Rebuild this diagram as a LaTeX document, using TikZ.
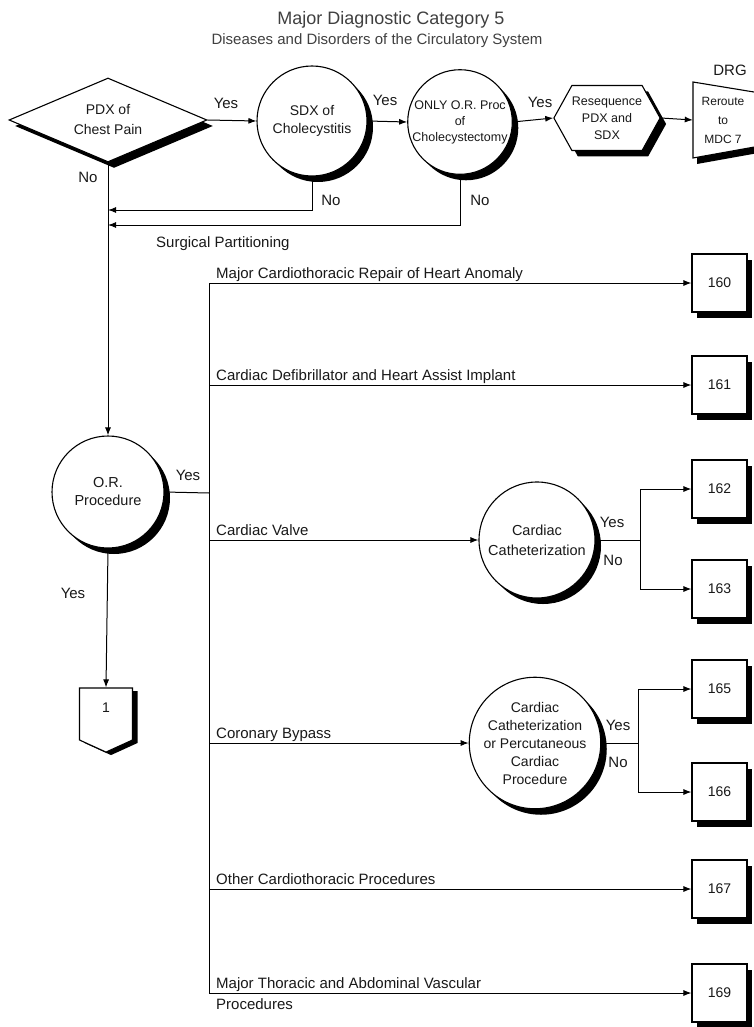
\documentclass[tikz,border=0pt]{standalone}
\usepackage{fontspec}
\setmainfont{Liberation Sans}
\usetikzlibrary{arrows.meta,shapes.geometric,shapes.symbols,shadows,backgrounds}
\begin{document}
\begin{tikzpicture}[x=1pt,y=-1pt,
  every node/.style={font=\fontsize{14}{18}\selectfont, inner sep=0pt, text=black!90},
  shad/.style={drop shadow={shadow xshift=6pt,shadow yshift=-6pt,fill=black,opacity=1}},
  dec/.style={circle,draw,line width=1.1pt,fill=white,align=center,shad},
  drgbox/.style={draw,line width=1.1pt,fill=white,minimum width=55pt,minimum height=58pt,
     drop shadow={shadow xshift=5pt,shadow yshift=-6pt,fill=black,opacity=1}},
  arr/.style={-{Latex[length=8pt,width=6pt]},line width=1pt},
  ln/.style={line width=1pt},
  lbl/.style={font=\fontsize{15}{18}\selectfont,anchor=base west},
  yn/.style={font=\fontsize{15}{18}\selectfont},
]
\useasboundingbox (0,0) rectangle (753,1027);

% titles
\node (title) at (391,20) [font=\fontsize{18}{20}\selectfont, text=black!75] {Major Diagnostic Category 5};
\node (sub) at (377,41) [font=\fontsize{15}{17}\selectfont, text=black!75] {Diseases and Disorders of the Circulatory System};
\node (drgt) at (730,70) [yn] {DRG};

% top row
\node[diamond, draw, line width=1.1pt, fill=white, shad, minimum width=198pt, minimum height=84pt,
      aspect=2.36, align=center, font=\fontsize{14}{20}\selectfont] (pdx) at (108,120) {PDX of\\Chest Pain};
\node[dec, minimum size=110pt] (sdx) at (312,121) {SDX of\\Cholecystitis};
\node[dec, minimum size=104pt, font=\fontsize{12.5}{16}\selectfont] (only) at (460,122) {ONLY O.R. Proc\\of\\Cholecystectomy};
\node[signal, signal to=west and east, signal pointer angle=122, draw, line width=1.1pt, fill=white, shad,
      minimum width=100pt, minimum height=65pt, align=center, font=\fontsize{12.5}{17}\selectfont] (hex) at (607,118) {Resequence\\PDX and\\SDX};
\node[minimum width=60pt, minimum height=70pt, align=center, font=\fontsize{12}{19}\selectfont] (drg) at (723,120) {Reroute\\to\\MDC 7};
\begin{scope}[on background layer]
  \fill[white] (0,0) rectangle (753,1027);
  \fill[black] (697,88) -- (764,99) -- (764,152) -- (697,164) -- cycle;
  \draw[line width=1.1pt, fill=white] (693,82) -- (760,93) -- (760,146) -- (693,158) -- cycle;
\end{scope}

\draw[arr] (pdx.east) -- (sdx.west);
\draw[arr] (sdx.east) -- (only.west);
\draw[arr] (only.east) -- (hex.west);
\draw[arr] (hex.east) -- (drg.west);
\node[yn] (y1) at (226,103) {Yes};
\node[yn] (y2) at (385,100) {Yes};
\node[yn] (y3) at (540,102) {Yes};

% OR procedure
\node[dec, minimum size=112pt, font=\fontsize{14.5}{18}\selectfont] (orp) at (108,492) {O.R.\\Procedure};
\draw[arr] (pdx.south) -- (orp.north);
\node[yn] (n0) at (88,177) {No};

\coordinate (j1) at (108,210);
\coordinate (j2) at (108,225);
\draw[arr] (sdx.south) |- (j1);
\draw[arr] (only.south) |- (j2);
\node[yn] (n1) at (331,200) {No};
\node[yn] (n2) at (480,200) {No};
\node[lbl] (surg) at (156,247) {Surgical Partitioning};

% off-page connector
\node[signal, signal to=south, signal from=nowhere, signal pointer angle=131, draw, line width=1.1pt, fill=white,
      drop shadow={shadow xshift=5pt,shadow yshift=-3pt,fill=black,opacity=1},
      minimum width=53pt, minimum height=52pt] (conn) at (106,714) {};
\node (connt) at (106,708) {1};
\draw[arr] (orp.south) -- (conn.north);
\node[yn] (y4) at (73,593) {Yes};

% bus
\coordinate (bus) at (209,493);
\coordinate (bt) at (209,283);
\coordinate (bb) at (209,993);
\draw[ln] (orp.east) -- (bus);
\draw[ln] (bt) -- (bb);
\node[yn] (y5) at (188,475) {Yes};

% DRG boxes
\node[drgbox] (b160) at (719.5,283) {160};
\node[drgbox] (b161) at (719.5,385) {161};
\node[drgbox] (b162) at (719.5,489) {162};
\node[drgbox] (b163) at (719.5,589) {163};
\node[drgbox] (b165) at (719.5,689) {165};
\node[drgbox] (b166) at (719.5,792) {166};
\node[drgbox] (b167) at (719.5,889) {167};
\node[drgbox] (b169) at (719.5,993) {169};

% branches
\coordinate (r161) at (209,385);
\coordinate (rcv) at (209,540);
\coordinate (rcb) at (209,743);
\coordinate (roth) at (209,889);
\draw[arr] (bt) -- (b160.west);
\draw[arr] (r161) -- (b161.west);
\node[lbl] (l160) at (216,278) {Major Cardiothoracic Repair of Heart Anomaly};
\node[lbl] (l161) at (216,380) {Cardiac Defibrillator and Heart Assist Implant};

\node[dec, minimum size=116pt, font=\fontsize{14.5}{20}\selectfont] (cc1) at (537,540) {Cardiac\\Catheterization};
\draw[arr] (rcv) -- (cc1.west);
\node[lbl] (lcv) at (216,535) {Cardiac Valve};
\coordinate (s1) at (640,540);
\draw[ln] (cc1.east) -- (s1);
\draw[arr] (s1) |- (b162.west);
\draw[arr] (s1) |- (b163.west);
\node[yn] (y6) at (612,522) {Yes};
\node[yn] (n6) at (613,560) {No};

\node[dec, minimum size=120pt, font=\fontsize{14}{18}\selectfont] (cc2) at (535,743) {Cardiac\\Catheterization\\or Percutaneous\\Cardiac\\Procedure};
\draw[arr] (rcb) -- (cc2.west);
\node[lbl] (lcb) at (216,738) {Coronary Bypass};
\coordinate (s2) at (638,743);
\draw[ln] (cc2.east) -- (s2);
\draw[arr] (s2) |- (b165.west);
\draw[arr] (s2) |- (b166.west);
\node[yn] (y7) at (618,725) {Yes};
\node[yn] (n7) at (618,762) {No};

\draw[arr] (roth) -- (b167.west);
\node[lbl] (loth) at (216,884) {Other Cardiothoracic Procedures};
\draw[arr] (bb) -- (b169.west);
\node[lbl] (lmt) at (216,988) {Major Thoracic and Abdominal Vascular};
\node[lbl] (lmt2) at (216,1009) {Procedures};
\end{tikzpicture}
\end{document}
